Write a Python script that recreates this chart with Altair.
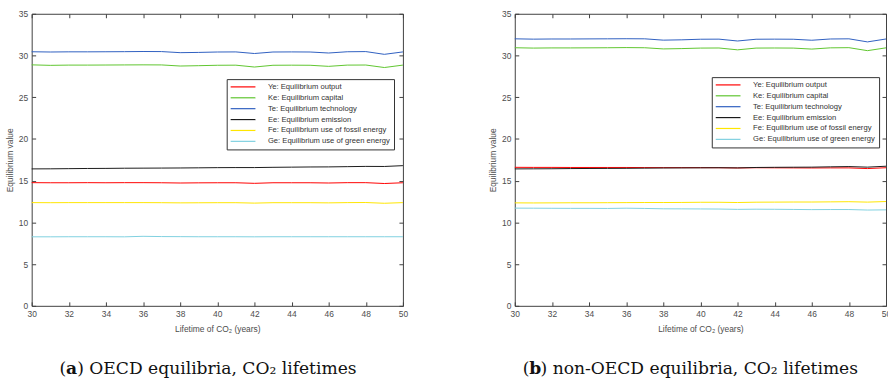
import altair as alt
import pandas as pd

# ---------------- data ----------------
lifetimes = list(range(30, 51))
x_ticks = list(range(30, 51, 2))
y_ticks = [0, 5, 10, 15, 20, 25, 30, 35]

series_names = [
    "Ye: Equilibrium output",
    "Ke: Equilibrium capital",
    "Te: Equilibrium technology",
    "Ee: Equilibrium emission",
    "Fe: Equilibrium use of fossil energy",
    "Ge: Equilibrium use of green energy",
]
series_colors = ["#ff0000", "#5fc52f", "#2f5fc0", "#1a1a1a", "#ffe600", "#7fd0e0"]

# OECD
oecd_Ye = [14.76, 14.75, 14.75, 14.76, 14.75, 14.76, 14.76, 14.75, 14.72, 14.74, 14.75,
           14.75, 14.68, 14.75, 14.75, 14.75, 14.72, 14.76, 14.76, 14.66, 14.75]
oecd_Ke = [28.88, 28.82, 28.85, 28.85, 28.86, 28.87, 28.88, 28.87, 28.74, 28.78, 28.83,
           28.84, 28.62, 28.83, 28.84, 28.83, 28.70, 28.85, 28.86, 28.56, 28.85]
oecd_Te = [30.45, 30.42, 30.44, 30.44, 30.45, 30.46, 30.48, 30.47, 30.34, 30.37, 30.42,
           30.43, 30.24, 30.42, 30.43, 30.42, 30.30, 30.45, 30.47, 30.14, 30.43]
oecd_Ee = [16.41, 16.42, 16.44, 16.46, 16.47, 16.49, 16.50, 16.51, 16.52, 16.54, 16.56,
           16.57, 16.57, 16.60, 16.62, 16.64, 16.65, 16.68, 16.71, 16.70, 16.80]
oecd_Fe = [12.37, 12.36, 12.37, 12.37, 12.37, 12.37, 12.37, 12.36, 12.34, 12.35, 12.36,
           12.36, 12.31, 12.36, 12.36, 12.36, 12.34, 12.37, 12.38, 12.29, 12.37]
oecd_Ge = [8.27, 8.27, 8.28, 8.28, 8.28, 8.27, 8.33, 8.30, 8.29, 8.28, 8.28,
           8.28, 8.27, 8.28, 8.28, 8.28, 8.28, 8.28, 8.28, 8.28, 8.28]

# non-OECD
non_Ye = [16.60, 16.59, 16.59, 16.58, 16.58, 16.58, 16.58, 16.57, 16.56, 16.56, 16.56,
          16.55, 16.52, 16.55, 16.54, 16.53, 16.52, 16.53, 16.53, 16.45, 16.55]
non_Ke = [30.93, 30.89, 30.91, 30.91, 30.92, 30.93, 30.95, 30.93, 30.79, 30.83, 30.89,
          30.90, 30.68, 30.89, 30.90, 30.89, 30.77, 30.92, 30.94, 30.58, 30.92]
non_Te = [32.00, 31.96, 31.98, 31.98, 31.99, 32.00, 32.01, 32.00, 31.84, 31.88, 31.95,
          31.96, 31.74, 31.95, 31.96, 31.95, 31.83, 31.98, 32.00, 31.63, 31.98]
non_Ee = [16.41, 16.42, 16.43, 16.45, 16.46, 16.47, 16.48, 16.50, 16.52, 16.53, 16.54,
          16.55, 16.53, 16.58, 16.60, 16.61, 16.62, 16.66, 16.69, 16.62, 16.73]
non_Fe = [12.34, 12.33, 12.34, 12.35, 12.35, 12.36, 12.37, 12.38, 12.38, 12.39, 12.41,
          12.41, 12.38, 12.42, 12.43, 12.44, 12.44, 12.46, 12.48, 12.43, 12.50]
non_Ge = [11.71, 11.70, 11.69, 11.68, 11.68, 11.67, 11.70, 11.67, 11.63, 11.62, 11.61,
          11.60, 11.56, 11.58, 11.57, 11.55, 11.53, 11.54, 11.54, 11.48, 11.50]

x_title = "Lifetime of CO₂ (years)"
y_title = "Equilibrium value"
caption_a = ["(", "a", ") OECD equilibria, CO₂ lifetimes"]
caption_b = ["(", "b", ") non-OECD equilibria, CO₂ lifetimes"]

# ---------------- styling ----------------
AX = "#404040"
SANS = "Liberation Sans"
SERIF = "DejaVu Serif"
W, H = 375, 295
CAP_FS = 17.3


def long_df(cols):
    rows = []
    for name, vals in zip(series_names, cols):
        for lt, v in zip(lifetimes, vals):
            rows.append({"lifetime": lt, "value": v, "series": name})
    return pd.DataFrame(rows)


def panel(cols, leg_x, leg_y, caption, cap_x):
    df = long_df(cols)
    xscale = alt.Scale(domain=[30, 50], nice=False, zero=False)
    yscale = alt.Scale(domain=[0, 35], nice=False)

    lines = alt.Chart(df).mark_line(strokeWidth=1).encode(
        x=alt.X("lifetime:Q", scale=xscale,
                axis=alt.Axis(orient="bottom", values=x_ticks, format="d", title=x_title,
                              ticks=False, tickSize=0, domain=False, labelPadding=4,
                              titlePadding=6, labelFlush=False)),
        y=alt.Y("value:Q", scale=yscale,
                axis=alt.Axis(orient="left", values=y_ticks, format="d", title=y_title,
                              ticks=False, tickSize=0, domain=False, labelPadding=4,
                              titlePadding=4, labelFlush=False)),
        color=alt.Color("series:N",
                        scale=alt.Scale(domain=series_names, range=series_colors),
                        legend=alt.Legend(orient="none", legendX=leg_x, legendY=leg_y,
                                          title=None, symbolType="M-5,0H5", symbolSize=25,
                                          symbolStrokeWidth=1.2, symbolOffset=8.65,
                                          labelFontSize=7.7, labelFont=SANS,
                                          labelColor="#333333", strokeColor="#333333",
                                          fillColor="white", padding=4, rowPadding=2,
                                          labelOffset=21.3, labelLimit=300)),
        order=alt.Order("lifetime:Q"),
    )

    ticks_bl = alt.Chart(df).mark_line(strokeOpacity=0).encode(
        x=alt.X("lifetime:Q", scale=xscale,
                axis=alt.Axis(orient="bottom", values=x_ticks, offset=-4, tickSize=4,
                              labels=False, domain=False, title=None, tickColor=AX)),
        y=alt.Y("value:Q", scale=yscale,
                axis=alt.Axis(orient="left", values=y_ticks, offset=-4, tickSize=4,
                              labels=False, domain=False, title=None, tickColor=AX)),
        detail="series:N",
    )
    ticks_tr = alt.Chart(df).mark_line(strokeOpacity=0).encode(
        x=alt.X("lifetime:Q", scale=xscale,
                axis=alt.Axis(orient="top", values=x_ticks, offset=-4, tickSize=4,
                              labels=False, domain=False, title=None, tickColor=AX)),
        y=alt.Y("value:Q", scale=yscale,
                axis=alt.Axis(orient="right", values=y_ticks, offset=-4, tickSize=4,
                              labels=False, domain=False, title=None, tickColor=AX)),
        detail="series:N",
    )

    cap_y = 364
    c1 = alt.Chart(pd.DataFrame({"t": [caption[0]]})).mark_text(
        font=SERIF, fontSize=CAP_FS, align="left", baseline="alphabetic", color="#111111"
    ).encode(text="t:N", x=alt.value(cap_x), y=alt.value(cap_y))
    c2 = alt.Chart(pd.DataFrame({"t": [caption[1]]})).mark_text(
        font=SERIF, fontSize=CAP_FS, fontWeight="bold", align="left", baseline="alphabetic",
        color="#111111"
    ).encode(text="t:N", x=alt.value(cap_x + 6.7), y=alt.value(cap_y))
    c3 = alt.Chart(pd.DataFrame({"t": [caption[2]]})).mark_text(
        font=SERIF, fontSize=CAP_FS, align="left", baseline="alphabetic", color="#111111"
    ).encode(text="t:N", x=alt.value(cap_x + 18.0), y=alt.value(cap_y))

    return alt.layer(lines, ticks_bl, ticks_tr, c1, c2, c3).resolve_axis(
        x="independent", y="independent"
    ).properties(width=W, height=H)


left = panel([oecd_Ye, oecd_Ke, oecd_Te, oecd_Ee, oecd_Fe, oecd_Ge], 197, 66, caption_a, 28)
right = panel([non_Ye, non_Ke, non_Te, non_Ee, non_Fe, non_Ge], 199, 64, caption_b, 8)

chart = alt.hconcat(left, right, spacing=80).resolve_scale(color="independent").properties(
    padding={"left": 5, "top": 7, "right": -4, "bottom": 0}, background="white"
).configure_view(stroke=AX, strokeWidth=1).configure_axis(
    grid=False, labelFont=SANS, titleFont=SANS, labelFontSize=8.5, titleFontSize=8.5,
    labelColor="#4d4d4d", titleColor="#4d4d4d", titleFontWeight="normal"
)

chart.save("out.html", embed_options={"renderer": "svg", "actions": False})
